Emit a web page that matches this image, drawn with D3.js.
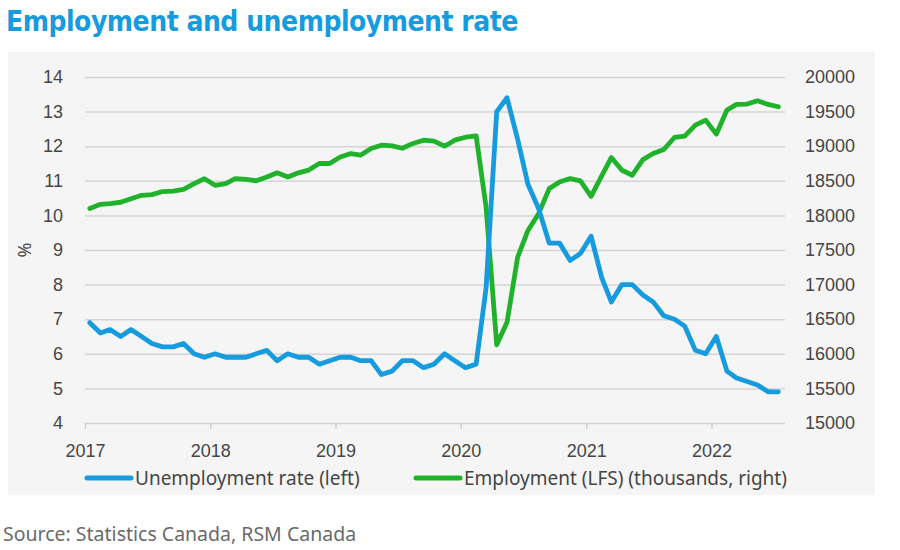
<!DOCTYPE html>
<html>
<head>
<meta charset="utf-8">
<script src="https://cdn.jsdelivr.net/npm/d3@7"></script>
<style>
  body { margin: 0; background: #fff; }
  svg { display: block; font-family: "Noto Sans", "Open Sans", sans-serif; }
  .title { font-family: "Liberation Sans Narrow", "DejaVu Sans Condensed", sans-serif; font-stretch: condensed; font-weight: bold; font-size: 28px; fill: #169bde; letter-spacing: -0.5px; }
  .axis text { font-size: 18px; fill: #454545; }
  .axis path.domain { display: none; }
  .grid line { stroke: #d4d4d4; stroke-width: 1.5; }
  .x.axis line { stroke: #cfcfcf; stroke-width: 1.5; }
  .legend text { font-size: 19px; fill: #454545; }
  .source { font-size: 19.5px; fill: #6a6a6a; }
</style>
</head>
<body>
<svg width="900" height="550"></svg>
<script>
// **** Data ****

var years = [2017, 2018, 2019, 2020, 2021, 2022];
var leftTicks = [4, 5, 6, 7, 8, 9, 10, 11, 12, 13, 14];
var rightTicks = [15000, 15500, 16000, 16500, 17000, 17500, 18000, 18500, 19000, 19500, 20000];

// monthly, Jan 2017 - Jul 2022
var months = d3.timeMonth.range(new Date(2017, 0, 1), new Date(2022, 7, 1));

var unemployment = [
    6.9, 6.6, 6.7, 6.5, 6.7, 6.5, 6.3, 6.2, 6.2, 6.3, 6.0, 5.9,
    6.0, 5.9, 5.9, 5.9, 6.0, 6.1, 5.8, 6.0, 5.9, 5.9, 5.7, 5.8,
    5.9, 5.9, 5.8, 5.8, 5.4, 5.5, 5.8, 5.8, 5.6, 5.7, 6.0, 5.8,
    5.6, 5.7, 7.9, 13.0, 13.4, 12.2, 10.9, 10.2, 9.2, 9.2, 8.7, 8.9,
    9.4, 8.2, 7.5, 8.0, 8.0, 7.7, 7.5, 7.1, 7.0, 6.8, 6.1, 6.0,
    6.5, 5.5, 5.3, 5.2, 5.1, 4.9, 4.9
];

var employment = [
    18100, 18160, 18170, 18190, 18240, 18290, 18300, 18345, 18350, 18375, 18460, 18530,
    18435, 18460, 18530, 18520, 18500, 18555, 18615, 18555, 18615, 18655, 18750, 18750,
    18845, 18894, 18870, 18967, 19015, 19005, 18970, 19040, 19087, 19073, 19000, 19087,
    19130, 19150, 18121, 16131, 16455, 17396, 17783, 18025, 18387, 18483, 18532, 18498,
    18276, 18570, 18836, 18652, 18580, 18807, 18894, 18952, 19126, 19145, 19304, 19377,
    19174, 19522, 19604, 19609, 19657, 19604, 19570
];

var seriesNames = ['Unemployment rate (left)', 'Employment (LFS) (thousands, right)'];
var blue = '#169bde';
var green = '#1fb22a';

// **** Scales ****

var svg = d3.select('svg');

var xScale = d3.scaleTime()
    .domain([new Date(2017, 0, 1), new Date(2022, 0, 1)]).range([85, 711.5]);
var leftScale = d3.scaleLinear().domain([4, 14]).range([423, 77]);
var rightScale = d3.scaleLinear().domain([15000, 20000]).range([423, 77]);

// points sit in the middle of each month
function monthX(d) { return xScale(d3.timeDay.offset(d, 14)); }

// **** Background, title, source ****

svg.append('rect')
    .attr('x', 8).attr('y', 52).attr('width', 867).attr('height', 443)
    .attr('fill', '#f5f5f5');

svg.append('text')
    .attr('class', 'title')
    .attr('x', 6).attr('y', 31)
    .text('Employment and unemployment rate');

svg.append('text')
    .attr('class', 'source')
    .attr('x', 3).attr('y', 541)
    .text('Source: Statistics Canada, RSM Canada');

// **** Axes ****

svg.append('g').attr('class', 'y axis grid')
    .attr('transform', 'translate(85,0)')
    .call(d3.axisLeft(leftScale).tickValues(leftTicks).tickSize(-700).tickPadding(22));

svg.append('g').attr('class', 'y axis')
    .attr('transform', 'translate(785,0)')
    .call(d3.axisRight(rightScale).tickValues(rightTicks).tickSize(0).tickPadding(20)
        .tickFormat(d3.format('d')));

svg.append('g').attr('class', 'x axis')
    .attr('transform', 'translate(0,423)')
    .call(d3.axisBottom(xScale)
        .tickValues(years.map(function(y) { return new Date(y, 0, 1); }))
        .tickFormat(d3.timeFormat('%Y'))
        .tickSize(6).tickPadding(15));

svg.append('text')
    .attr('class', 'axis')
    .attr('transform', 'translate(31,250) rotate(-90)')
    .attr('text-anchor', 'middle')
    .style('font-size', '18px').style('fill', '#454545')
    .text('%');

// **** Lines ****

var unempLine = d3.line()
    .x(function(d, i) { return monthX(months[i]); })
    .y(function(d) { return leftScale(d); });

var empLine = d3.line()
    .x(function(d, i) { return monthX(months[i]); })
    .y(function(d) { return rightScale(d); });

svg.append('path')
    .datum(employment)
    .attr('d', empLine)
    .attr('fill', 'none')
    .attr('stroke', green)
    .attr('stroke-width', 4.8)
    .attr('stroke-linejoin', 'round')
    .attr('stroke-linecap', 'round');

svg.append('path')
    .datum(unemployment)
    .attr('d', unempLine)
    .attr('fill', 'none')
    .attr('stroke', blue)
    .attr('stroke-width', 4.8)
    .attr('stroke-linejoin', 'round')
    .attr('stroke-linecap', 'round');

// **** Legend ****

var legend = svg.append('g').attr('class', 'legend');
var legendX = [87, 416];
var colors = [blue, green];

seriesNames.forEach(function(name, i) {
    legend.append('line')
        .attr('x1', legendX[i]).attr('x2', legendX[i] + 44)
        .attr('y1', 478).attr('y2', 478)
        .attr('stroke', colors[i])
        .attr('stroke-width', 5)
        .attr('stroke-linecap', 'round');
    legend.append('text')
        .attr('x', legendX[i] + 48).attr('y', 485)
        .text(name);
});
</script>
</body>
</html>
